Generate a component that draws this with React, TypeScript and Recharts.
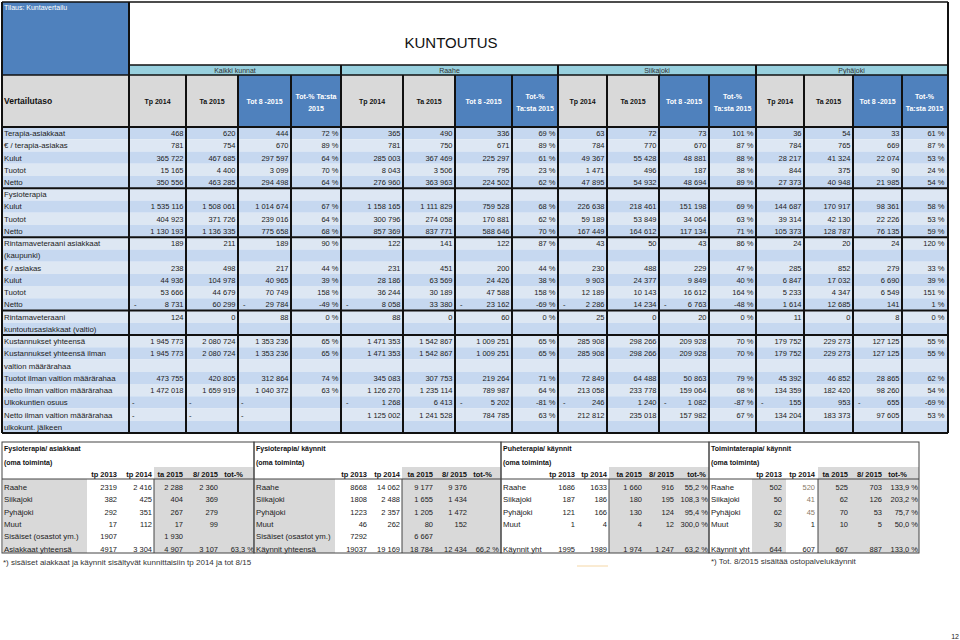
import React from 'react'
import {Surface, Layer, Rectangle} from 'recharts'

// ---- top table data ----
const groups = ['Kaikki kunnat', 'Raahe', 'Siikajoki', 'Pyhäjoki']
const columnHeads = ['Tp 2014', 'Ta 2015', 'Tot 8 -2015']
const pctHeads = [['Tot-% Ta:sta', '2015'], ['Tot-%', 'Ta:sta 2015'], ['Tot-%', 'Ta:sta 2015'], ['Tot-%', 'Ta:sta 2015']]

const rowLabels: string[][] = [
    ['Terapia-asiakkaat'], ['€ / terapia-asiakas'], ['Kulut'], ['Tuotot'], ['Netto'],
    ['Fysioterapia'], ['Kulut'], ['Tuotot'], ['Netto'],
    ['Rintamaveteraani asiakkaat', '(kaupunki)'], ['€ / asiakas'], ['Kulut'], ['Tuotot'], ['Netto'],
    ['Rintamaveteraani', 'kuntoutusasiakkaat (valtio)'],
    ['Kustannukset yhteensä'], ['Kustannukset yhteensä ilman', 'valtion määrärahaa'],
    ['Tuotot ilman valtion määrärahaa'], ['Netto ilman valtion määrärahaa'], ['Ulkokuntien osuus'],
    ['Netto ilman valtion määrärahaa', 'ulkokunt. jälkeen'],
]
const sectionEnds = [4, 8, 13, 14]

type V = number | null | '-'
const N = [null, null, null, null] as V[]

const kaikkiKunnat: V[][] = [
    [468, 620, 444, 72], [781, 754, 670, 89], [365722, 467685, 297597, 64], [15165, 4400, 3099, 70], [350556, 463285, 294498, 64],
    N, [1535116, 1508061, 1014674, 67], [404923, 371726, 239016, 64], [1130193, 1136335, 775658, 68],
    [189, 211, 189, 90], [238, 498, 217, 44], [44936, 104978, 40965, 39], [53666, 44679, 70749, 158], [-8731, 60299, -29784, -49],
    [124, 0, 88, 0],
    [1945773, 2080724, 1353236, 65], [1945773, 2080724, 1353236, 65], [473755, 420805, 312864, 74], [1472018, 1659919, 1040372, 63],
    ['-', '-', '-', null], ['-', '-', '-', null],
]
const raahe: V[][] = [
    [365, 490, 336, 69], [781, 750, 671, 89], [285003, 367469, 225297, 61], [8043, 3506, 795, 23], [276960, 363963, 224502, 62],
    N, [1158165, 1111829, 759528, 68], [300796, 274058, 170881, 62], [857369, 837771, 588646, 70],
    [122, 141, 122, 87], [231, 451, 200, 44], [28186, 63569, 24426, 38], [36244, 30189, 47588, 158], [-8058, 33380, -23162, -69],
    [88, 0, 60, 0],
    [1471353, 1542867, 1009251, 65], [1471353, 1542867, 1009251, 65], [345083, 307753, 219264, 71], [1126270, 1235114, 789987, 64],
    [-1268, 6413, -5202, -81], [1125002, 1241528, 784785, 63],
]
const siikajoki: V[][] = [
    [63, 72, 73, 101], [784, 770, 670, 87], [49367, 55428, 48881, 88], [1471, 496, 187, 38], [47895, 54932, 48694, 89],
    N, [226638, 218461, 151198, 69], [59189, 53849, 34064, 63], [167449, 164612, 117134, 71],
    [43, 50, 43, 86], [230, 488, 229, 47], [9903, 24377, 9849, 40], [12189, 10143, 16612, 164], [-2286, 14234, -6763, -48],
    [25, 0, 20, 0],
    [285908, 298266, 209928, 70], [285908, 298266, 209928, 70], [72849, 64488, 50863, 79], [213058, 233778, 159064, 68],
    [-246, 1240, -1082, -87], [212812, 235018, 157982, 67],
]
const pyhajoki: V[][] = [
    [36, 54, 33, 61], [784, 765, 669, 87], [28217, 41324, 22074, 53], [844, 375, 90, 24], [27373, 40948, 21985, 54],
    N, [144687, 170917, 98361, 58], [39314, 42130, 22226, 53], [105373, 128787, 76135, 59],
    [24, 20, 24, 120], [285, 852, 279, 33], [6847, 17032, 6690, 39], [5233, 4347, 6549, 151], [1614, 12685, 141, 1],
    [11, 0, 8, 0],
    [179752, 229273, 127125, 55], [179752, 229273, 127125, 55], [45392, 46852, 28865, 62], [134359, 182420, 98260, 54],
    [-155, 953, -655, -69], [134204, 183373, 97605, 53],
]
const groupValues = [kaikkiKunnat, raahe, siikajoki, pyhajoki]

// ---- bottom tables data ----
const bottomHeads = ['tp 2013', 'tp 2014', 'ta 2015', '8/ 2015', 'tot-%']
const asiakkaatRows = ['Raahe', 'Siikajoki', 'Pyhäjoki', 'Muut', 'Sisäiset (osastot ym.)', 'Asiakkaat yhteensä']
const asiakkaatTp2013 = [2319, 382, 292, 17, 1907, 4917]
const asiakkaatTp2014 = [2416, 425, 351, 112, null, 3304]
const asiakkaatTa2015 = [2288, 404, 267, 17, 1930, 4907]
const asiakkaat8_2015 = [2360, 369, 279, 99, null, 3107]
const asiakkaatTot = [null, null, null, null, null, 63.3]

const fysioRows = ['Raahe', 'Siikajoki', 'Pyhäjoki', 'Muut', 'Sisäiset (osastot ym.)', 'Käynnit yhteensä']
const fysioTp2013 = [8668, 1808, 1223, 46, 7292, 19037]
const fysioTp2014 = [14062, 2488, 2357, 262, null, 19169]
const fysioTa2015 = [9177, 1655, 1205, 80, 6667, 18784]
const fysio8_2015 = [9376, 1434, 1472, 152, null, 12434]
const fysioTot = [null, null, null, null, null, 66.2]

const kayntiRows = ['Raahe', 'Siikajoki', 'Pyhäjoki', 'Muut', '', 'Käynnit yht']
const puheTp2013 = [1686, 187, 121, 1, null, 1995]
const puheTp2014 = [1633, 186, 166, 4, null, 1989]
const puheTa2015 = [1660, 180, 130, 4, null, 1974]
const puhe8_2015 = [916, 195, 124, 12, null, 1247]
const puheTot = [55.2, 108.3, 95.4, 300.0, null, 63.2]

const toimintaTp2013 = [502, 50, 62, 30, null, 644]
const toimintaTp2014 = [520, 41, 45, 1, null, 607]
const toimintaTa2015 = [525, 62, 70, 10, null, 667]
const toiminta8_2015 = [703, 126, 53, 5, null, 887]
const toimintaTot = [133.9, 203.2, 75.7, 50.0, null, 133.0]

// ---- layout ----
const FONT = '"Liberation Sans", Arial, sans-serif'
const L = 2, R = 947
const GROUP_TOP = 65, HEAD_TOP = 75, BODY_TOP = 127, LINE_H = 12.24
const LABEL_R = 129
const colEdges = [129, 186, 238, 291, 341, 403, 455, 512, 558, 607, 659, 709, 756, 804, 853, 902, 947]
const DARK = '#c6d8f0', LIGHT = '#dde7f3', BLUE = '#4f81bd', GREY = '#d9d9d9', CYAN = '#98d0de'

const bottomTables = [
    {title: 'Fysioterapia/ asiakkaat', rows: asiakkaatRows, cols: [asiakkaatTp2013, asiakkaatTp2014, asiakkaatTa2015, asiakkaat8_2015, asiakkaatTot],
        group: [false, true, true, true], x0: 2, x1: 254, right: [117, 152, 183, 218, 254], headR: [117, 152, 183, 218, 243], sep: 154, labelGrey: [3, 87]},
    {title: 'Fysioterapia/ käynnit', rows: fysioRows, cols: [fysioTp2013, fysioTp2014, fysioTa2015, fysio8_2015, fysioTot],
        group: [false, true, true, true], x0: 254, x1: 501, right: [367, 400, 433, 467, 499], headR: [367, 400, 433, 467, 492], sep: 402, labelGrey: [255, 335]},
    {title: 'Puheterapia/ käynnit', rows: kayntiRows, cols: [puheTp2013, puheTp2014, puheTa2015, puhe8_2015, puheTot],
        group: [false, false, true, true], x0: 501, x1: 709, right: [575, 607, 642, 674, 708], headR: [575, 607, 642, 674, 706], sep: 609, labelGrey: null},
    {title: 'Toimintaterapia/ käynnit', rows: kayntiRows, cols: [toimintaTp2013, toimintaTp2014, toimintaTa2015, toiminta8_2015, toimintaTot],
        group: [false, false, true, true], x0: 709, x1: 919, right: [782, 815, 848, 882, 918], headR: [782, 815, 848, 882, 907], sep: 818, labelGrey: [752, 786]},
]
const B_TOP = 442, B_HEAD = 479, B_BOTTOM = 553, B_ROW = 12.3

const fmt = (n: number, group = true) => {
    const s = Math.abs(n).toString()
    return group ? s.replace(/\B(?=(\d{3})+(?!\d))/g, ' ') : s
}
const pct = (n: number) => n.toFixed(1).replace('.', ',') + ' %'

const T = (p: any) => <text fontFamily={FONT} fontSize={7.5} fill="#222" {...p} />

const TopTable = () => {
    const els: any[] = []
    // line index of each row
    const starts: number[] = []
    let li = 0
    rowLabels.forEach((r) => { starts.push(li); li += r.length })
    const totalLines = li
    const bottom = BODY_TOP + totalLines * LINE_H

    // stripes
    for (let i = 0; i < totalLines; i++) {
        els.push(<Rectangle key={`s${i}`} x={L} y={BODY_TOP + i * LINE_H} width={R - L} height={LINE_H} fill={i % 2 === 0 ? DARK : LIGHT} />)
    }
    // header blocks
    els.push(<Rectangle key="tl" x={L} y={2} width={LABEL_R - L} height={HEAD_TOP - 2} fill={BLUE} />)
    els.push(<Rectangle key="vt" x={L} y={HEAD_TOP} width={LABEL_R - L} height={BODY_TOP - HEAD_TOP} fill={GREY} />)
    els.push(<Rectangle key="grp" x={LABEL_R} y={GROUP_TOP} width={R - LABEL_R} height={HEAD_TOP - GROUP_TOP} fill={CYAN} />)
    for (let c = 0; c < 16; c++) {
        const x0 = colEdges[c], x1 = colEdges[c + 1]
        els.push(<Rectangle key={`h${c}`} x={x0} y={HEAD_TOP} width={x1 - x0} height={BODY_TOP - HEAD_TOP} fill={c % 4 < 2 ? GREY : BLUE} />)
    }
    els.push(<text key="tilaus" x={4} y={10} fontFamily={FONT} fontSize={7} fill="#fff">Tilaus: Kuntavertailu</text>)
    els.push(<text key="title" x={451} y={48} fontFamily={FONT} fontSize={15} fill="#111" textAnchor="middle">KUNTOUTUS</text>)
    els.push(<text key="vert" x={4} y={104} fontFamily={FONT} fontSize={8.5} fontWeight="bold" fill="#111">Vertailutaso</text>)

    groups.forEach((g, gi) => {
        const x0 = colEdges[gi * 4], x1 = colEdges[gi * 4 + 4]
        els.push(<text key={`g${gi}`} x={(x0 + x1) / 2} y={72.5} fontFamily={FONT} fontSize={7} fill="#333" textAnchor="middle">{g}</text>)
        for (let c = 0; c < 4; c++) {
            const cx = (colEdges[gi * 4 + c] + colEdges[gi * 4 + c + 1]) / 2
            const fill = c < 2 ? '#111' : '#fff'
            if (c < 3) {
                els.push(<text key={`ht${gi}${c}`} x={cx} y={104} fontFamily={FONT} fontSize={7} fontWeight="bold" fill={fill} textAnchor="middle">{columnHeads[c]}</text>)
            } else {
                pctHeads[gi].forEach((t, k) => els.push(
                    <text key={`hp${gi}${k}`} x={cx} y={98.5 + k * 12.5} fontFamily={FONT} fontSize={7} fontWeight="bold" fill={fill} textAnchor="middle">{t}</text>))
            }
        }
    })

    // body text
    rowLabels.forEach((lines, r) => {
        const top = BODY_TOP + starts[r] * LINE_H
        lines.forEach((t, k) => els.push(<T key={`l${r}${k}`} x={4} y={top + (k + 1) * LINE_H - 3.2} fontSize={7.8}>{t}</T>))
        groupValues.forEach((vals, gi) => {
            vals[r].forEach((v, c) => {
                if (v === null) return
                const x0 = colEdges[gi * 4 + c], x1 = colEdges[gi * 4 + c + 1]
                const y = top + LINE_H - 3.2
                const key = `v${r}${gi}${c}`
                if (v === '-') {
                    els.push(<T key={key} x={x0 + 3} y={y}>-</T>)
                } else if (c === 3) {
                    els.push(<T key={key} x={x1 - 2.5} y={y} textAnchor="end">{`${v} %`}</T>)
                } else {
                    if (v < 0) els.push(<T key={key + 'm'} x={x0 + 5} y={y}>-</T>)
                    els.push(<T key={key} x={x1 - 2.5} y={y} textAnchor="end">{fmt(v)}</T>)
                }
            })
        })
    })

    // grid lines
    const ln = (k: string, x1: number, y1: number, x2: number, y2: number, w = 2) =>
        els.push(<line key={k} x1={x1} y1={y1} x2={x2} y2={y2} stroke="#111" strokeWidth={w} />)
    ln('top', L, 2, R + 1, 2, 1.5)
    ln('left', L, 2, L, bottom)
    ln('right', R + 1, 2, R + 1, bottom)
    ln('gt', LABEL_R, GROUP_TOP, R + 1, GROUP_TOP, 1.5)
    ln('ht', L, HEAD_TOP, R + 1, HEAD_TOP, 1.5)
    ln('bt', L, BODY_TOP, R + 1, BODY_TOP)
    ln('bb', L, bottom, R + 1, bottom)
    ln('lr', LABEL_R, 2, LABEL_R, bottom)
    colEdges.slice(1, -1).forEach((x, i) => {
        ln(`c${i}`, x, (i + 1) % 4 === 0 ? GROUP_TOP : HEAD_TOP, x, bottom)
    })
    sectionEnds.forEach((r) => {
        const y = BODY_TOP + (starts[r] + rowLabels[r].length) * LINE_H
        ln(`se${r}`, L, y, R + 1, y)
    })
    return <Layer>{els}</Layer>
}

const BottomTables = () => {
    const els: any[] = []
    bottomTables.forEach((t, ti) => {
        const hx0 = t.sep
        els.push(<Rectangle key={`bg${ti}`} x={hx0} y={467} width={t.x1 - hx0} height={B_BOTTOM - 467} fill={GREY} />)
        if (t.labelGrey) {
            els.push(<Rectangle key={`lg${ti}`} x={t.labelGrey[0]} y={B_HEAD} width={t.labelGrey[1] - t.labelGrey[0]} height={B_BOTTOM - B_HEAD} fill={GREY} />)
        }
        els.push(<text key={`tt${ti}`} x={t.x0 + 2} y={451} fontFamily={FONT} fontSize={7} fontWeight="bold" fill="#111">{t.title}</text>)
        els.push(<text key={`ts${ti}`} x={t.x0 + 2} y={465} fontFamily={FONT} fontSize={7} fontWeight="bold" fill="#111">(oma toiminta)</text>)
        bottomHeads.forEach((h, c) => els.push(
            <text key={`bh${ti}${c}`} x={t.headR[c]} y={477} fontFamily={FONT} fontSize={7.5} fontWeight="bold" fill="#111" textAnchor="end">{h}</text>))
        t.rows.forEach((lab, r) => {
            const y = 490 + r * B_ROW
            els.push(<T key={`bl${ti}${r}`} x={t.x0 + 2} y={y} fontSize={7.8}>{lab}</T>)
            t.cols.forEach((col, c) => {
                const v = col[r]
                if (v === null || v === undefined) return
                const txt = c === 4 ? pct(v) : fmt(v, t.group[c])
                const fill = ti === 3 && c === 1 && r < 3 ? '#8a7a68' : '#222'
                els.push(<T key={`bv${ti}${r}${c}`} x={t.right[c]} y={y} textAnchor="end" fill={fill}>{txt}</T>)
            })
        })
        els.push(<rect key={`bo${ti}`} x={t.x0} y={B_TOP} width={t.x1 - t.x0} height={B_BOTTOM - B_TOP} fill="none" stroke="#444" strokeWidth={1} />)
        els.push(<line key={`bhl${ti}`} x1={t.x0} y1={B_HEAD} x2={t.x1} y2={B_HEAD} stroke="#444" strokeWidth={1} />)
        els.push(<line key={`bsl${ti}`} x1={t.sep} y1={B_HEAD} x2={t.sep} y2={B_BOTTOM} stroke="#444" strokeWidth={1} />)
    })
    els.push(<T key="fn1" x={3} y={565} fontSize={8} fill="#333">*) sisäiset aiakkaat ja käynnit sisältyvät kunnittaisiin tp 2014 ja tot 8/15</T>)
    els.push(<T key="fn2" x={711} y={564} fontSize={8} fill="#333">*) Tot. 8/2015 sisältää ostopalvelukäynnit</T>)
    els.push(<line key="or" x1={577} y1={566} x2={608} y2={566} stroke="#f5d7a6" strokeWidth={1} />)
    els.push(<T key="pg" x={959} y={639} fontSize={7} textAnchor="end">12</T>)
    return <Layer>{els}</Layer>
}

export default function App() {
    return (
        <div style={{position: 'absolute', left: 0, top: 0, width: 960, height: 640, background: '#fff'}}>
            <Surface width={960} height={640}>
                <TopTable />
                <BottomTables />
            </Surface>
        </div>
    )
}
